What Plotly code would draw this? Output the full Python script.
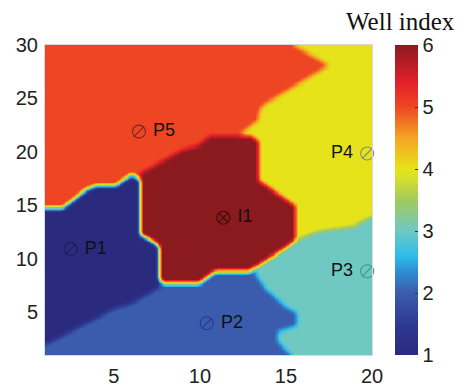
import numpy as np
import plotly.graph_objects as go

# ---------------- data ----------------
# well index of each zone
IDX_P1, IDX_P2, IDX_P3, IDX_P4, IDX_P5, IDX_I1 = 1, 2, 3, 4, 5, 6

# zone outlines (grid x, grid y); painted in this order over the P4 zone
ZONE_P5 = [(-1, 32), (13.3, 32), (17.5, 28.15), (13.7, 24.4), (13.45, 23.9),
           (13.4, 23.0), (12.4, 21.8), (11.5, 18), (6, 14), (-1, 14)]
ZONE_P3 = [(8, -1), (21, -1), (21, 14.0), (20.0, 14.0), (18.9, 13.1),
           (16.9, 12.6), (15.6, 11.8), (13.5, 9.6), (8, 9.6)]
ZONE_P2 = [(-1, -1), (15.4, -1), (15.3, 1.0), (14.5, 2.3), (14.5, 3.2),
           (15.6, 3.8), (15.6, 5.0), (15.0, 5.5), (13.8, 7.2), (13.25, 8.5),
           (13.1, 10), (-1, 10)]
ZONE_P1 = [(-1, 14.9), (2, 14.7), (3.3, 16.4), (4, 16.9), (5.1, 16.8),
           (6.0, 17.9), (6.6, 17.3), (7.0, 12), (7.7, 11), (7.7, 7.5),
           (6.9, 6.7), (6, 5.9), (5, 5.4), (1, 2.0), (-1, 0.3)]
ZONE_I1 = [(6.5, 18.0), (8.9, 20.2), (9.8, 20.6), (10.5, 21.5), (12.9, 21.6),
           (13.4, 21.0), (13.4, 17.4), (15.5, 15.0), (15.5, 11.8), (14.8, 10.9),
           (12.9, 8.9), (10.9, 8.9), (10.0, 7.8), (7.8, 7.8), (7.6, 8.2),
           (7.6, 11.3), (6.5, 12.3)]

# wells
WELL_NAMES = ["P1", "P2", "P3", "P4", "P5", "I1"]
WELL_X = [2.49, 10.4, 19.72, 19.72, 6.46, 11.36]
WELL_Y = [10.9, 3.97, 8.83, 19.85, 21.9, 13.84]

X_TICKS = [5, 10, 15, 20]
Y_TICKS = [5, 10, 15, 20, 25, 30]
CBAR_TICKS = [1, 2, 3, 4, 5, 6]

# ---------------- field on a fine grid ----------------
xs = np.linspace(1, 20, 241)
ys = np.linspace(1, 30, 291)
X, Y = np.meshgrid(xs, ys)


def inside(poly, X, Y):
    px = np.array([p[0] for p in poly], float)
    py = np.array([p[1] for p in poly], float)
    n = len(poly)
    c = np.zeros(X.shape, bool)
    j = n - 1
    for i in range(n):
        xi, yi, xj, yj = px[i], py[i], px[j], py[j]
        if yi != yj:
            cond = ((yi > Y) != (yj > Y)) & (X < (xj - xi) * (Y - yi) / (yj - yi) + xi)
            c ^= cond
        j = i
    return c


Z = np.full(X.shape, float(IDX_P4))
for poly, val in [(ZONE_P5, IDX_P5), (ZONE_P3, IDX_P3), (ZONE_P2, IDX_P2),
                  (ZONE_P1, IDX_P1), (ZONE_I1, IDX_I1)]:
    Z[inside(poly, X, Y)] = val


# soft shading across zone borders (like interpolated cell shading)
def box(a, k, axis):
    pad = [(0, 0), (0, 0)]
    pad[axis] = (k // 2, k // 2)
    ap = np.pad(a, pad, mode="edge")
    return np.lib.stride_tricks.sliding_window_view(ap, k, axis=axis).mean(axis=-1)


Zs = box(box(Z, 5, 1), 7, 0)

CS = [
    [0.00, "#2A2A7E"],
    [0.10, "#2E3A92"],
    [0.20, "#3B5CAC"],
    [0.27, "#2F8ED2"],
    [0.32, "#2DBDEA"],
    [0.40, "#6FC8C2"],
    [0.50, "#A2CA5E"],
    [0.57, "#D6E02C"],
    [0.60, "#E6E31A"],
    [0.70, "#F5A423"],
    [0.80, "#EE4623"],
    [0.88, "#E3202A"],
    [1.00, "#8A1A1E"],
]

fig = go.Figure()
fig.add_trace(go.Heatmap(
    x=xs, y=ys, z=np.round(Zs, 3), zmin=1, zmax=6, colorscale=CS, zsmooth="best",
    hoverinfo="skip",
    colorbar=dict(
        thickness=23, thicknessmode="pixels", len=1, lenmode="fraction",
        x=1.07, xanchor="left", y=0.5, yanchor="middle", xpad=0, ypad=0,
        outlinewidth=0, tickvals=CBAR_TICKS, ticks="inside", ticklen=3,
        tickcolor="#333", tickfont=dict(family="Liberation Sans", size=20, color="#222"),
    ),
))

mcol = ["#1f1f55", "#28389a", "#3a9a8a", "#888888", "#7a2a20", "#3a0c0c"]
tpos = ["middle right", "middle right", "middle left", "middle left",
        "middle right", "middle right"]
labels = [(" " + n) if tpos[i] == "middle right" else (n + " ")
          for i, n in enumerate(WELL_NAMES)]
prod = [i for i, n in enumerate(WELL_NAMES) if n.startswith("P")]
inj = [i for i, n in enumerate(WELL_NAMES) if n.startswith("I")]

fig.add_trace(go.Scatter(
    x=[WELL_X[i] for i in prod], y=[WELL_Y[i] for i in prod],
    mode="markers+text", text=[labels[i] for i in prod],
    textposition=[tpos[i] for i in prod],
    textfont=dict(family="Liberation Sans", size=18, color="#111"),
    marker=dict(symbol="circle-open", size=13, color=[mcol[i] for i in prod],
                line=dict(width=1.1, color=[mcol[i] for i in prod])),
    showlegend=False, hoverinfo="skip", cliponaxis=False,
))
fig.add_trace(go.Scatter(
    x=[WELL_X[i] for i in prod], y=[WELL_Y[i] for i in prod],
    mode="markers",
    marker=dict(symbol="line-ne", size=10, color=[mcol[i] for i in prod],
                line=dict(width=1.1, color=[mcol[i] for i in prod])),
    showlegend=False, hoverinfo="skip", cliponaxis=False,
))
fig.add_trace(go.Scatter(
    x=[WELL_X[i] for i in inj], y=[WELL_Y[i] for i in inj],
    mode="markers+text", text=[labels[i] for i in inj],
    textposition=[tpos[i] for i in inj],
    textfont=dict(family="Liberation Sans", size=18, color="#111"),
    marker=dict(symbol="circle-x-open", size=13, color=[mcol[i] for i in inj],
                line=dict(width=1.1, color=[mcol[i] for i in inj])),
    showlegend=False, hoverinfo="skip", cliponaxis=False,
))

axis_common = dict(showgrid=False, zeroline=False, showline=True, linecolor="#d8d8d8",
                   linewidth=1, mirror=True, ticks="", automargin=False,
                   tickfont=dict(family="Liberation Sans", size=20, color="#222"))
fig.update_layout(
    width=467, height=388,
    margin=dict(l=45, r=95, t=45, b=33, autoexpand=False),
    paper_bgcolor="white", plot_bgcolor="white",
    xaxis=dict(range=[1, 20], tickvals=X_TICKS, ticklabelstandoff=3, **axis_common),
    yaxis=dict(range=[1, 30], tickvals=Y_TICKS, ticklabelstandoff=2, **axis_common),
    annotations=[dict(text="Well index", xref="paper", yref="paper",
                      x=(400 - 45) / 327, y=(355 - 21) / 310,
                      xanchor="center", yanchor="middle", showarrow=False,
                      font=dict(family="Liberation Serif", size=25, color="#111"))],
)
fig.write_html("out.html")
